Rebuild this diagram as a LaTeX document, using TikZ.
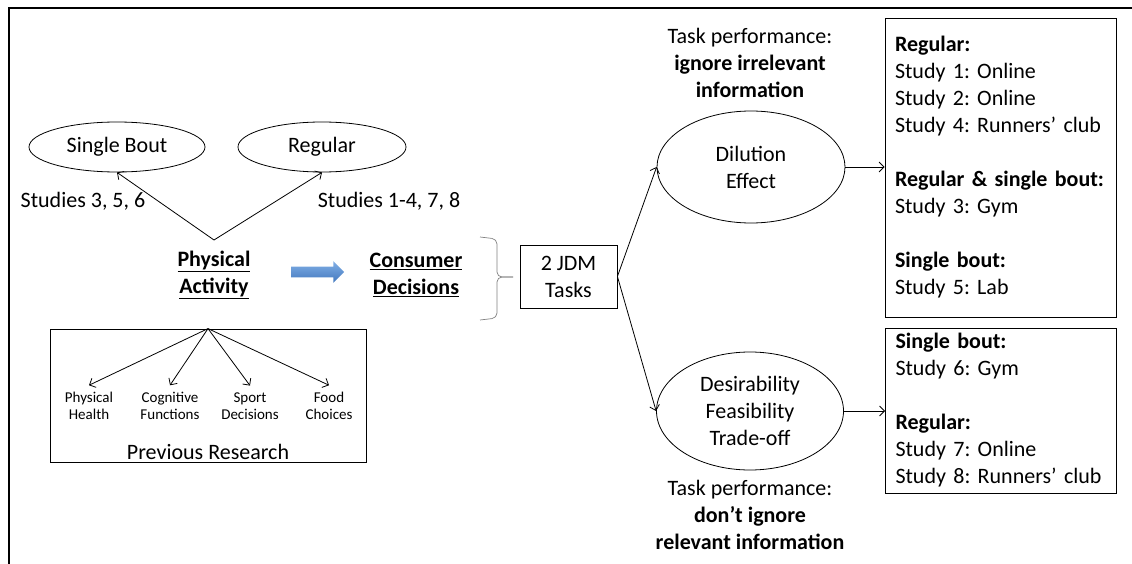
\documentclass[tikz,border=0pt]{standalone}
\usepackage{fontspec}
\setmainfont{Carlito}
\frenchspacing
\usetikzlibrary{shapes.geometric,shapes.arrows,arrows.meta}

\definecolor{flowtop}{RGB}{130,175,230}
\definecolor{flowbot}{RGB}{65,120,190}

\tikzset{
  oval/.style={ellipse,draw,inner sep=0pt,align=center},
  studybox/.style={draw,text width=211pt,inner xsep=10pt,inner ysep=0pt,align=left,minimum width=231pt},
  smalllbl/.style={font=\fontsize{15}{17}\selectfont,align=center,inner sep=0pt,outer sep=7pt},
}

\begin{document}
\begin{tikzpicture}[x=1pt,y=-1pt,>={Straight Barb[length=5pt,width=10pt]},
  font=\fontsize{22}{27}\selectfont,line width=0.8pt]
\useasboundingbox (0,0) rectangle (1132,564);
% page frame
\draw[line width=1.5pt] (8,8) -- (1132,8);
\draw[line width=1.5pt] (9,8) -- (9,564);

% kinds of activity
\node[oval,minimum width=176pt,minimum height=50pt] (single) at (117,147) {Single Bout};
\node[oval,minimum width=168pt,minimum height=50pt] (regular) at (322,147) {Regular};
\node (s356) at (83,201) {Studies 3, 5, 6};
\node (s1478) at (389,201) {Studies 1-4, 7, 8};
\coordinate (fork) at (214,240);
\draw[->] (fork) -- (single.south);
\draw[->] (fork) -- (regular.south);

\node[align=center] (pa) at (214,275) {\underline{\textbf{Physical}}\\\underline{\textbf{Activity}}};
\node[single arrow,draw=none,top color=flowtop,bottom color=flowbot,minimum height=53pt,
  inner xsep=0pt,inner ysep=5pt,single arrow head extend=5.5pt] (flow) at (315,272) {};
\node[align=center] (cd) at (416,275) {\underline{\textbf{Consumer}}\\\underline{\textbf{Decisions}}};

% previous research
\node[draw,minimum width=316pt,minimum height=133pt,inner sep=0pt] (prev) at (208,395.5) {};
\node (prevlbl) at (208,452) {Previous Research};
\foreach \n/\x/\txt in {ph/89/{Physical\\Health},cf/170/{Cognitive\\Functions},
                        sd/250/{Sport\\Decisions},fc/329/{Food\\Choices}} {
  \node[smalllbl] (\n) at (\x,406) {\txt};
  \draw[->] (prev.north) -- (\n.north);
}

% tasks
\coordinate (bracetop) at (480,237);
\coordinate (bracetip) at (513,277);
\coordinate (bracebot) at (480,320);
\draw[gray,line width=0.7pt,rounded corners=5pt] (bracetop) -- (497,239) -- (497,277) -- (bracetip);
\draw[gray,line width=0.7pt,rounded corners=5pt] (bracebot) -- (497,318) -- (497,277) -- (bracetip);
\node[draw,minimum width=97pt,minimum height=63pt,align=center] (jdm) at (568.5,276.5) {2 JDM\\Tasks};

\node[oval,minimum width=188pt,minimum height=112pt] (dil) at (751,167) {Dilution\\Effect};
\node[oval,minimum width=187pt,minimum height=118pt] (dft) at (750,411) {Desirability\\Feasibility\\Trade-off};
\node[align=center] (perf1) at (750,63) {Task performance:\\\textbf{ignore irrelevant}\\\textbf{information}};
\node[align=center] (perf2) at (750,515) {Task performance:\\\textbf{don’t ignore}\\\textbf{relevant information}};
\draw[->] (jdm.east) -- (dil.west);
\draw[->] (jdm.east) -- (dft.west);

% studies
\node[studybox,minimum height=299pt] (box1) at (1000.5,167.5) {\textbf{Regular:}\\Study 1: Online\\Study 2: Online\\Study 4: Runners’ club\\[27pt]\textbf{Regular \& single bout:}\\Study 3: Gym\\[27pt]\textbf{Single bout:}\\Study 5: Lab};
\node[studybox,minimum height=165pt] (box2) at (1001,410.5) {\textbf{Single bout:}\\Study 6: Gym\\[27pt]\textbf{Regular:}\\Study 7: Online\\Study 8: Runners’ club};
\draw[->] (dil.east) -- (dil.east -| box1.west);
\draw[->] (dft.east) -- (dft.east -| box2.west);
\end{tikzpicture}
\end{document}
